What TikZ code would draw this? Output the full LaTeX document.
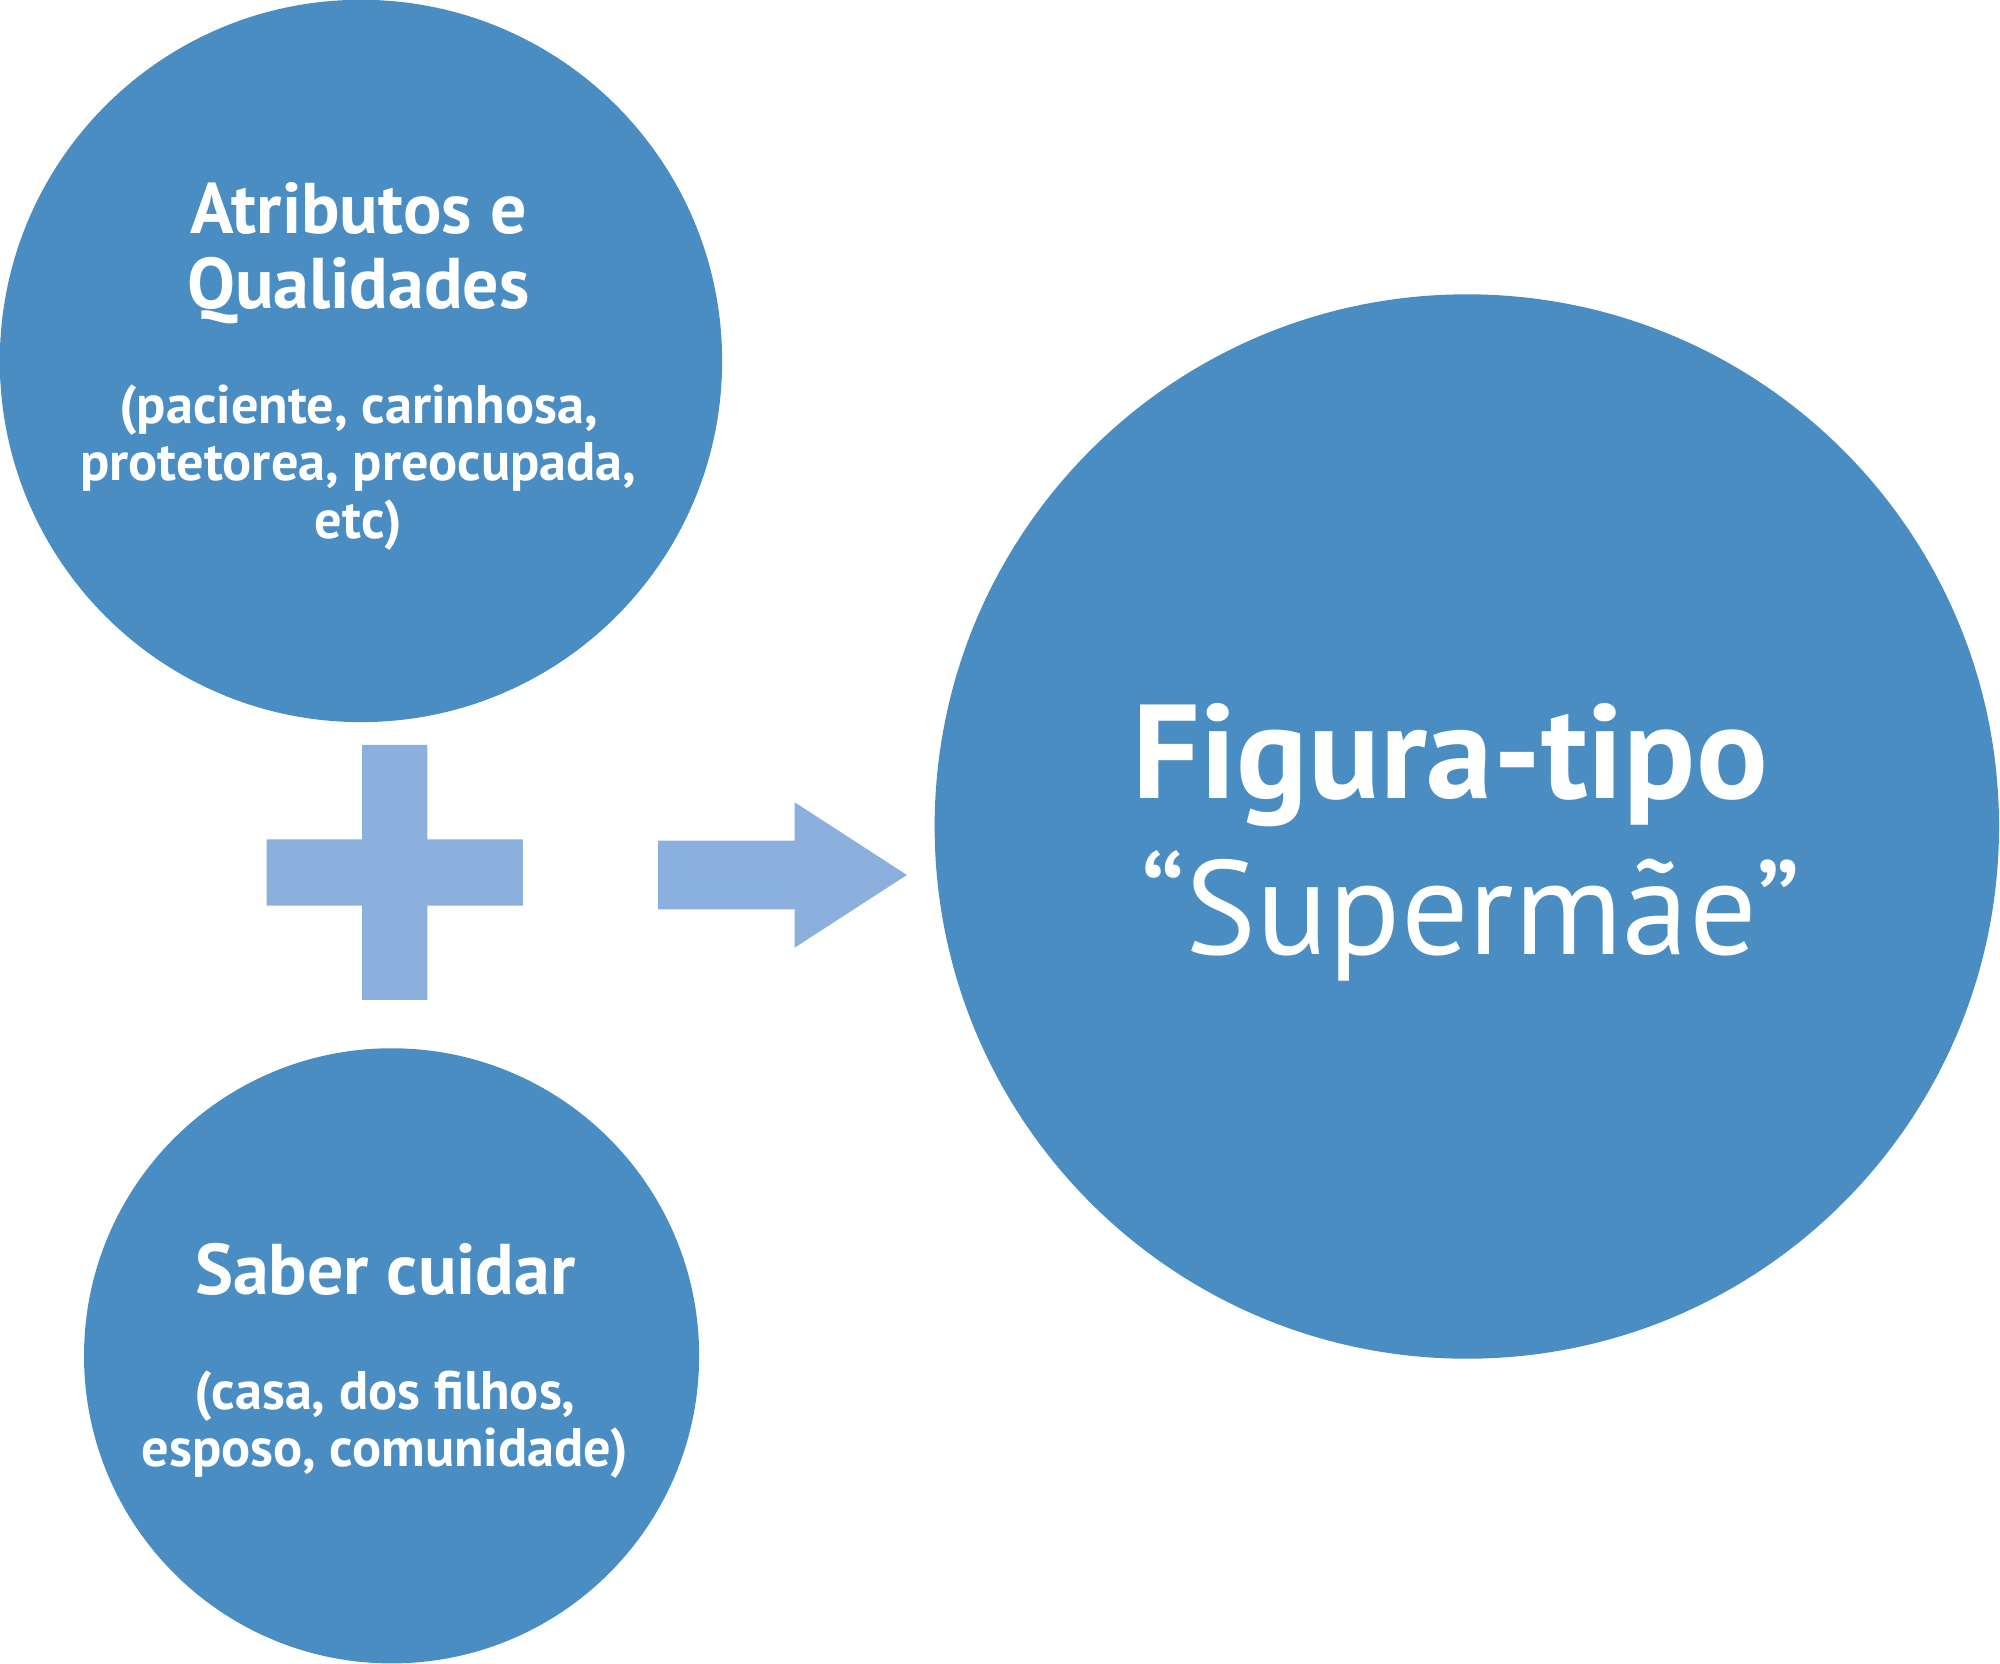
\documentclass[tikz,border=0pt]{standalone}
\usepackage{fontspec}
\setmainfont{PT Sans}
\definecolor{circblue}{HTML}{4A8DC2}
\definecolor{lightblue}{HTML}{8BB0DD}

\begin{document}
\begin{tikzpicture}[x=0.01cm,y=-0.01cm,
   bubble/.style={circle,fill=circblue,inner sep=0pt},
   head/.style={anchor=base,text=white,font=\bfseries\fontsize{16}{18}\selectfont},
   small/.style={anchor=base,text=white,font=\bfseries\fontsize{12.1}{13}\selectfont},
   big/.style={anchor=base,text=white,font=\fontsize{29.8}{34}\selectfont}]
   \useasboundingbox (0,0) rectangle (1568,1304);
   % circles
   \path (283,283) node[bubble,minimum size=5.66cm] (A) {};
   \path (307,1063) node[bubble,minimum size=4.82cm] (B) {};
   \path (1150,648) node[bubble,minimum size=8.34cm] (F) {};
   % plus and arrow
   \fill[lightblue] (284,584) -- (335,584) -- (335,658) -- (410,658) -- (410,710)
      -- (335,710) -- (335,784) -- (284,784) -- (284,710) -- (209,710)
      -- (209,658) -- (284,658) -- cycle;
   \fill[lightblue] (516,659) -- (623,659) -- (623,629) -- (711,686)
      -- (623,743) -- (623,713) -- (516,713) -- cycle;
   % texts
   \path (281,183) node[head] (A1) {Atributos e};
   \path (281,242) node[head] (A2) {Qualidades};
   \path (281,332) node[small] (A3) {(paciente, carinhosa,};
   \path (281,377) node[small] (A4) {protetorea, preocupada,};
   \path (281,422) node[small] (A5) {etc)};
   \path (302,1015) node[head] (B1) {Saber cuidar};
   \path (302,1105) node[small] (B2) {(casa, dos filhos,};
   \path (302,1150) node[small] (B3) {esposo, comunidade)};
   \path (1137,626) node[big,font=\bfseries\fontsize{29.8}{34}\selectfont] (F1) {Figura-tipo};
   \path (1153,748) node[big] (F2) {“Supermãe”};
\end{tikzpicture}
\end{document}
